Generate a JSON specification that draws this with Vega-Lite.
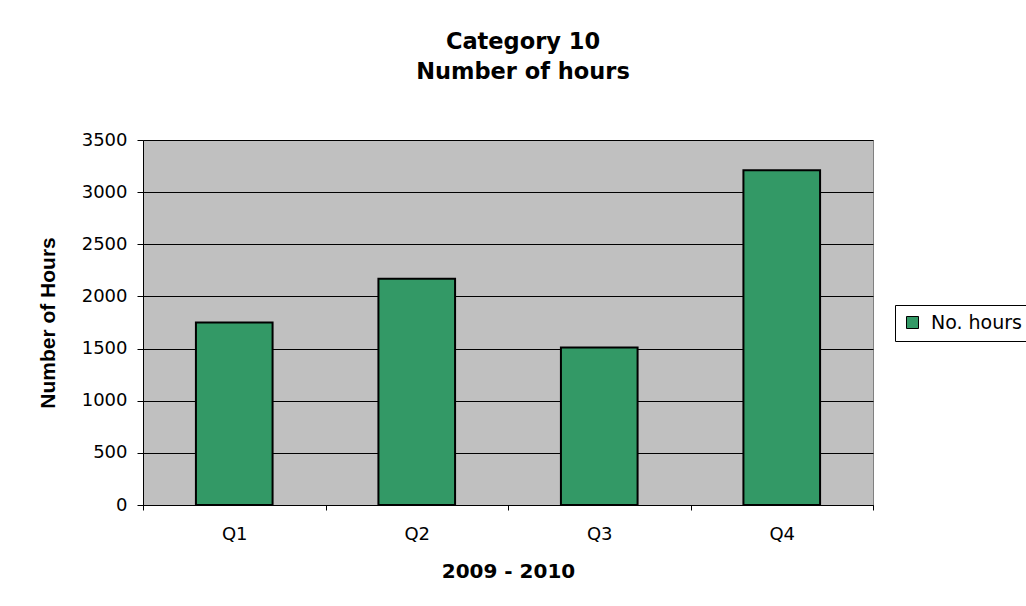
{
  "$schema": "https://vega.github.io/schema/vega-lite/v6.json",
  "width": 730,
  "height": 365,
  "autosize": "none",
  "padding": {"left": 143, "top": 140, "right": 153, "bottom": 101},
  "background": "white",
  "title": {
    "text": ["Category 10", "Number of hours"],
    "anchor": "middle",
    "frame": "group",
    "dx": 15,
    "offset": 48,
    "font": "DejaVu Sans",
    "fontSize": 22.5,
    "fontWeight": "bold",
    "color": "black",
    "lineHeight": 30
  },
  "data": {
    "values": [
      {"quarter": "Q1", "hours": 1750, "series": "No. hours"},
      {"quarter": "Q2", "hours": 2170, "series": "No. hours"},
      {"quarter": "Q3", "hours": 1510, "series": "No. hours"},
      {"quarter": "Q4", "hours": 3210, "series": "No. hours"}
    ]
  },
  "mark": {"type": "bar", "width": {"band": 0.42}, "stroke": "black", "strokeWidth": 2},
  "encoding": {
    "x": {
      "field": "quarter",
      "type": "nominal",
      "scale": {"paddingInner": 0, "paddingOuter": 0},
      "axis": {
        "title": "2009 - 2010",
        "titleFont": "DejaVu Sans",
        "titleFontSize": 20,
        "titleFontWeight": "bold",
        "titleColor": "black",
        "titlePadding": 18,
        "labelAngle": 0,
        "labelFont": "DejaVu Sans",
        "labelFontSize": 18,
        "labelColor": "black",
        "labelPadding": 15,
        "tickBand": "extent",
        "tickSize": 5,
        "tickColor": "black",
        "domainColor": "black",
        "grid": false
      }
    },
    "y": {
      "field": "hours",
      "type": "quantitative",
      "scale": {"domain": [0, 3500], "nice": false},
      "axis": {
        "title": "Number of Hours",
        "titleFont": "Liberation Sans",
        "titleFontSize": 21,
        "titleFontWeight": "bold",
        "titleColor": "black",
        "titlePadding": 23,
        "values": [0, 500, 1000, 1500, 2000, 2500, 3000, 3500],
        "format": "d",
        "labelFont": "DejaVu Sans",
        "labelFontSize": 18,
        "labelColor": "black",
        "labelPadding": 10,
        "tickSize": 6,
        "tickColor": "black",
        "domainColor": "black",
        "grid": true,
        "gridColor": "black",
        "gridWidth": 1,
        "gridOpacity": 1
      }
    },
    "color": {
      "field": "series",
      "type": "nominal",
      "scale": {"range": ["#339966"]},
      "legend": {
        "title": null,
        "orient": "none",
        "legendX": 752,
        "legendY": 165,
        "padding": 8,
        "strokeColor": "black",
        "fillColor": "white",
        "symbolType": "square",
        "symbolSize": 144,
        "symbolStrokeColor": "black",
        "symbolStrokeWidth": 1,
        "labelFont": "DejaVu Sans",
        "labelFontSize": 19,
        "labelColor": "black",
        "labelOffset": 9
      }
    }
  },
  "config": {
    "view": {"fill": "#C0C0C0", "stroke": "#808080"}
  }
}
